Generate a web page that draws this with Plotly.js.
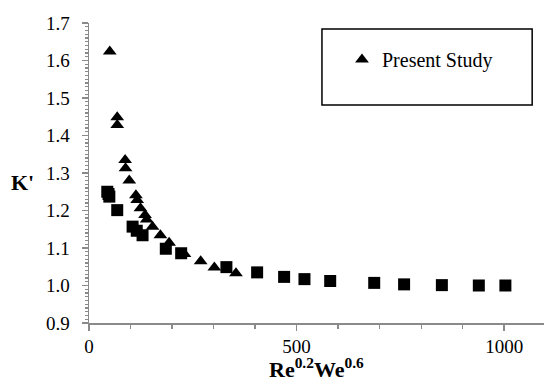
<!DOCTYPE html>
<html>
<head>
<meta charset="utf-8">
<script src="https://cdn.plot.ly/plotly-3.0.1.min.js"></script>
<style>html,body{margin:0;padding:0;background:#fff;}#chart{width:544px;height:381px;}</style>
</head>
<body>
<div id="chart"></div>
<script>
// Present Study (triangles)
var studyX = [50, 68, 68, 87, 88, 97, 113, 116, 124, 135, 139, 153, 172, 193, 230, 269, 302, 354];
var studyY = [1.624, 1.449, 1.428, 1.335, 1.313, 1.280, 1.241, 1.228, 1.206, 1.188, 1.176, 1.157, 1.134, 1.114, 1.084, 1.065, 1.048, 1.033];
// Second series (squares, not in legend)
var otherX = [44, 47, 49, 68, 105, 115, 129, 185, 222, 331, 405, 470, 519, 581, 687, 759, 850, 939, 1003];
var otherY = [1.250, 1.244, 1.237, 1.201, 1.157, 1.146, 1.134, 1.098, 1.086, 1.049, 1.035, 1.023, 1.017, 1.012, 1.007, 1.003, 1.001, 1.000, 1.000];
var xTickVals = [0, 500, 1000];
var xTickText = ['0', '500', '1000'];
var legendName = 'Present Study';
var xTitle = '<b>Re<sup>0.2</sup>We<sup>0.6</sup></b>';
var yTitle = "<b>K'</b>";

var font = 'Liberation Serif';
var axisColor = '#8a8a8a';

var traces = [
  {x: otherX, y: otherY, type: 'scatter', mode: 'markers', showlegend: false,
   marker: {symbol: 'square', size: 12, color: '#000'}},
  {x: studyX, y: studyY, type: 'scatter', mode: 'markers', name: legendName,
   marker: {symbol: 'triangle-up', size: 12, color: '#000'}}
];

var layout = {
  width: 544, height: 381,
  margin: {l: 89, r: 0, t: 23, b: 58},
  paper_bgcolor: '#fff', plot_bgcolor: '#fff',
  font: {family: font, size: 19, color: '#000'},
  showlegend: true,
  legend: {x: 0.556, y: 0.943, xanchor: 'left', yanchor: 'top', bgcolor: 'rgba(0,0,0,0)',
           borderwidth: 0, font: {family: font, size: 20, color: '#000'}},
  xaxis: {
    range: [0, 1096], showgrid: false, zeroline: false,
    showline: true, linecolor: axisColor, linewidth: 1.5,
    tickmode: 'array', tickvals: xTickVals, ticktext: xTickText,
    ticks: 'outside', ticklen: 6, tickcolor: axisColor, tickwidth: 1.5,
    minor: {dtick: 100, tick0: 0, ticks: 'outside', ticklen: 4, tickcolor: axisColor, tickwidth: 1.2},
    tickfont: {family: font, size: 19, color: '#000'},
    ticklabelstandoff: 0
  },
  yaxis: {
    range: [0.9, 1.7], showgrid: false, zeroline: false,
    showline: true, linecolor: axisColor, linewidth: 1.5,
    dtick: 0.1, tick0: 0.9, tickformat: '.1f',
    ticks: 'outside', ticklen: 6, tickcolor: axisColor, tickwidth: 1.5,
    minor: {dtick: 0.01, tick0: 0.9, ticks: 'outside', ticklen: 3, tickcolor: axisColor, tickwidth: 1.2},
    tickfont: {family: font, size: 19, color: '#000'},
    ticklabelstandoff: 8
  },
  shapes: [
    {type: 'rect', xref: 'paper', yref: 'paper', x0: 0.512, x1: 0.974, y0: 0.727, y1: 0.98,
     line: {color: '#000', width: 1.5}, fillcolor: 'rgba(0,0,0,0)'}
  ],
  annotations: [
    {text: xTitle, xref: 'paper', yref: 'paper', x: 0.5, y: 0, yshift: -61, showarrow: false,
     xanchor: 'center', yanchor: 'bottom', font: {family: font, size: 22, color: '#000'}},
    {text: yTitle, xref: 'paper', yref: 'paper', x: 0, y: 0.47, xshift: -67, showarrow: false,
     xanchor: 'center', yanchor: 'middle', font: {family: font, size: 22, color: '#000'}}
  ]
};

Plotly.newPlot('chart', traces, layout, {displayModeBar: false, staticPlot: true});
</script>
</body>
</html>
